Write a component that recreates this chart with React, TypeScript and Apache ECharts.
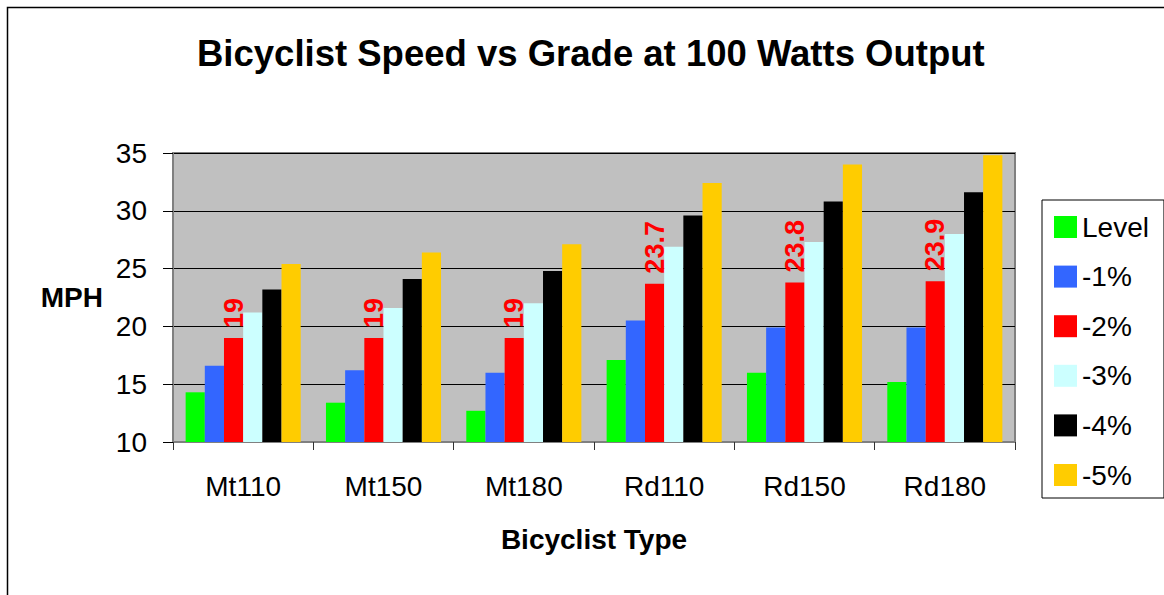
import React, { useEffect, useRef } from "react";
import * as echarts from "echarts";

const categories = ["Mt110", "Mt150", "Mt180", "Rd110", "Rd150", "Rd180"];
const seriesNames = ["Level", "-1%", "-2%", "-3%", "-4%", "-5%"];
const levelValues = [14.3, 13.4, 12.7, 17.1, 16.0, 15.2];
const minus1Values = [16.6, 16.2, 16.0, 20.5, 19.9, 19.9];
const minus2Values = [19, 19, 19, 23.7, 23.8, 23.9];
const minus3Values = [21.2, 21.6, 22.0, 26.9, 27.3, 28.0];
const minus4Values = [23.2, 24.1, 24.8, 29.6, 30.8, 31.6];
const minus5Values = [25.4, 26.4, 27.1, 32.4, 34.0, 34.8];
const seriesColors = ["#00ff00", "#3366ff", "#ff0000", "#ccffff", "#000000", "#ffcc00"];
const FONT = "'Liberation Sans', Arial, Helvetica, sans-serif";

export default function App() {
  const ref = useRef<HTMLDivElement>(null);
  useEffect(() => {
    document.body.style.margin = "0";
    const chart = echarts.init(ref.current!, null, { renderer: "svg" });
    const allValues = [levelValues, minus1Values, minus2Values, minus3Values, minus4Values, minus5Values];
    const series = seriesNames.map((name, i) => ({
      name,
      type: "bar",
      data: allValues[i],
      barGap: "0%",
      barCategoryGap: "18%",
      itemStyle: { color: seriesColors[i] },
      label:
        name === "-2%"
          ? {
              show: true,
              position: "top",
              rotate: 90,
              align: "left",
              verticalAlign: "middle",
              distance: 10,
              color: "#ff0000",
              fontFamily: FONT,
              fontWeight: "bold",
              fontSize: 27,
            }
          : { show: false },
    }));
    chart.setOption({
      animation: false,
      backgroundColor: "#ffffff",
      title: {
        text: "Bicyclist Speed vs Grade at 100 Watts Output",
        left: 197,
        top: 35,
        padding: 0,
        textStyle: { fontFamily: FONT, fontWeight: "bold", fontSize: 36.5, color: "#000" },
      },
      graphic: [
        {
          type: "rect",
          shape: { x: 7.5, y: 7.5, width: 1300, height: 800 },
          style: { fill: "none", stroke: "#000", lineWidth: 1.5 },
          silent: true,
          z: -1,
        },
      ],
      legend: {
        orient: "vertical",
        left: 1042,
        top: 200,
        padding: [13, 15, 9, 12],
        itemWidth: 23,
        itemHeight: 22,
        itemGap: 21.6,
        icon: "rect",
        borderColor: "#000",
        borderWidth: 1,
        backgroundColor: "#fff",
        textStyle: { fontFamily: FONT, fontSize: 28, color: "#000", lineHeight: 28 },
        data: seriesNames,
      },
      grid: {
        left: 173,
        top: 153,
        width: 842,
        height: 289,
        show: true,
        backgroundColor: "#c0c0c0",
        borderColor: "#808080",
        borderWidth: 2,
      },
      xAxis: {
        type: "category",
        data: categories,
        name: "Bicyclist Type",
        nameLocation: "middle",
        nameGap: 83,
        nameTextStyle: { fontFamily: FONT, fontWeight: "bold", fontSize: 28, color: "#000" },
        axisLine: { lineStyle: { color: "#808080", width: 2 } },
        axisTick: { show: true, length: 8, lineStyle: { color: "#333" } },
        axisLabel: { margin: 30, fontFamily: FONT, fontSize: 28, color: "#000" },
      },
      yAxis: {
        type: "value",
        min: 10,
        max: 35,
        interval: 5,
        name: "MPH",
        nameLocation: "middle",
        nameRotate: 0,
        nameGap: 70,
        nameTextStyle: {
          fontFamily: FONT,
          fontWeight: "bold",
          fontSize: 28,
          color: "#000",
          align: "right",
          verticalAlign: "middle",
          padding: [0, 0, 8, 0],
        },
        axisLine: { show: true, lineStyle: { color: "#808080", width: 2 } },
        axisTick: { show: true, length: 10, lineStyle: { color: "#000" } },
        axisLabel: { margin: 26, fontFamily: FONT, fontSize: 28, color: "#000" },
        splitLine: { show: true, lineStyle: { color: "#000", width: 1 } },
      },
      series,
    });
    return () => chart.dispose();
  }, []);
  return <div ref={ref} style={{ width: 1164, height: 595 }} />;
}
